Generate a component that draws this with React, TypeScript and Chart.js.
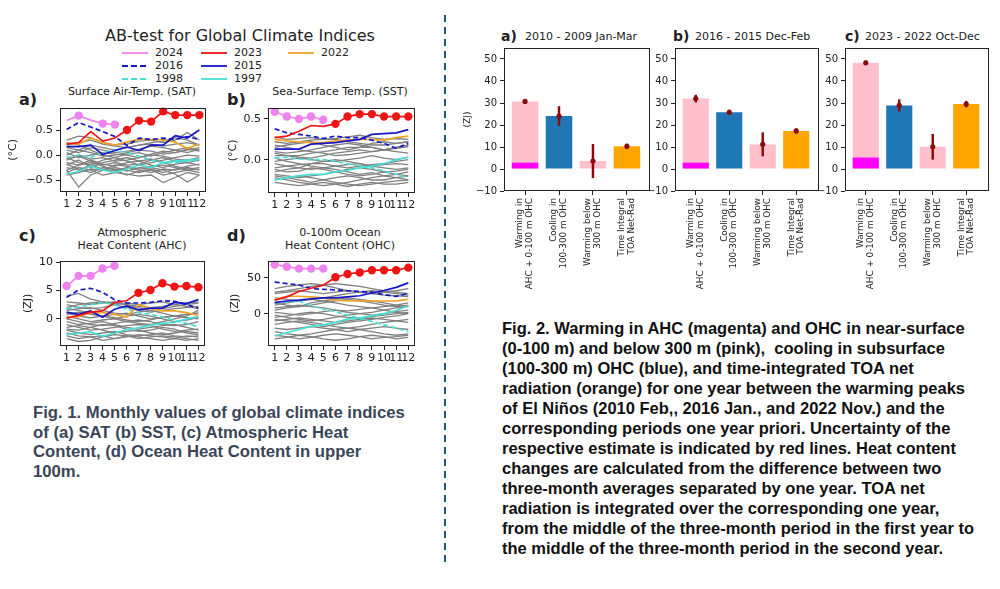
import React, { useEffect, useRef } from "react";
import { Chart, registerables } from "chart.js";
Chart.register(...registerables);

const FONT = "'DejaVu Sans', sans-serif";
const CAP_FONT = "'Liberation Sans', Arial, sans-serif";
const TXT = "#222";

// ---------------- Fig. 1 data ----------------
const MONTHS = [1, 2, 3, 4, 5, 6, 7, 8, 9, 10, 11, 12];

// (a) SAT (°C)
const SAT_2024 = [0.69, 0.79, 0.7, 0.63, 0.61];
const SAT_2024_REC = [0, 1, 0, 1, 1];
const SAT_2023 = [0.22, 0.25, 0.47, 0.28, 0.34, 0.5, 0.69, 0.67, 0.875, 0.8, 0.8, 0.8];
const SAT_2023_REC = [0, 0, 0, 0, 0, 1, 1, 1, 1, 1, 1, 1];
const SAT_2022 = [0.24, 0.22, 0.34, 0.25, 0.2, 0.26, 0.32, 0.31, 0.31, 0.26, 0.13, 0.22];
const SAT_2016 = [0.51, 0.65, 0.56, 0.47, 0.37, 0.19, 0.34, 0.31, 0.34, 0.31, 0.37, 0.31];
const SAT_2015 = [0.17, 0.17, 0.2, 0.01, 0.09, 0.16, 0.09, 0.2, 0.2, 0.39, 0.34, 0.5];
const SAT_1998 = [-0.05, 0.0, -0.05, 0.05, 0.1, 0.05, -0.02, -0.1, -0.15, -0.15, -0.12, -0.1];
const SAT_1997 = [-0.38, -0.33, -0.22, -0.3, -0.35, -0.28, -0.2, -0.25, -0.15, -0.12, -0.1, -0.08];
const SAT_OTHERS = [
  [0.3, 0.38, 0.35, 0.25, 0.2, 0.22, 0.28, 0.3, 0.25, 0.3, 0.45, 0.3],
  [0.2, 0.25, 0.3, 0.22, 0.18, 0.15, 0.2, 0.25, 0.28, 0.35, 0.3, 0.2],
  [0.1, 0.05, 0.15, 0.1, 0.05, 0.08, 0.12, 0.18, 0.15, 0.1, 0.05, 0.12],
  [0.05, -0.05, 0.0, 0.05, 0.02, 0.0, -0.05, 0.02, 0.08, 0.05, 0.1, 0.15],
  [-0.1, 0.0, -0.08, -0.05, -0.12, -0.1, -0.05, 0.0, -0.02, -0.08, -0.1, -0.05],
  [-0.15, -0.2, -0.1, -0.18, -0.22, -0.15, -0.12, -0.2, -0.25, -0.18, -0.15, -0.2],
  [-0.2, -0.1, -0.25, -0.15, -0.1, -0.05, -0.12, -0.08, -0.15, -0.22, -0.28, -0.25],
  [-0.25, -0.3, -0.2, -0.28, -0.32, -0.25, -0.3, -0.35, -0.28, -0.3, -0.25, -0.3],
  [-0.3, -0.64, -0.4, -0.3, -0.25, -0.3, -0.35, -0.3, -0.4, -0.35, -0.3, -0.35],
  [-0.35, -0.25, -0.3, -0.4, -0.35, -0.38, -0.42, -0.4, -0.55, -0.45, -0.35, -0.4],
  [-0.05, -0.15, -0.2, -0.1, -0.05, -0.12, -0.2, -0.15, -0.1, -0.05, 0.0, -0.02],
  [0.0, 0.1, 0.05, -0.02, 0.0, 0.05, 0.1, 0.08, 0.02, 0.05, 0.12, 0.08],
  [-0.4, -0.35, -0.28, -0.3, -0.2, -0.22, -0.28, -0.25, -0.3, -0.38, -0.54, -0.4],
  [0.15, 0.1, 0.2, 0.15, 0.1, 0.15, 0.2, 0.22, 0.18, 0.22, 0.25, 0.2],
  [-0.08, -0.02, -0.12, -0.2, -0.15, -0.2, -0.18, -0.1, -0.05, -0.12, -0.15, -0.1],
  [0.25, 0.2, 0.1, 0.0, -0.05, 0.02, 0.05, -0.02, 0.05, 0.1, 0.15, 0.1],
  [-0.18, -0.28, -0.35, -0.25, -0.28, -0.32, -0.25, -0.22, -0.2, -0.25, -0.3, -0.28],
  [-0.3, -0.2, -0.15, -0.22, -0.3, -0.4, -0.32, -0.28, -0.35, -0.28, -0.22, -0.18],
];

// (b) SST (°C)
const SST_2024 = [0.59, 0.53, 0.5, 0.53, 0.49];
const SST_2024_REC = [1, 1, 1, 1, 1];
const SST_2023 = [0.27, 0.29, 0.35, 0.42, 0.41, 0.44, 0.53, 0.56, 0.56, 0.53, 0.53, 0.53];
const SST_2023_REC = [0, 0, 0, 0, 0, 1, 1, 1, 1, 1, 1, 1];
const SST_2022 = [0.25, 0.23, 0.22, 0.21, 0.21, 0.23, 0.24, 0.25, 0.25, 0.24, 0.27, 0.29];
const SST_2016 = [0.38, 0.33, 0.31, 0.29, 0.26, 0.29, 0.27, 0.27, 0.24, 0.2, 0.14, 0.2];
const SST_2015 = [0.13, 0.13, 0.13, 0.19, 0.2, 0.21, 0.23, 0.25, 0.31, 0.32, 0.33, 0.37];
const SST_1998 = [0.02, 0.03, 0.01, 0.0, 0.0, -0.02, -0.05, -0.08, -0.1, -0.14, -0.18, -0.22];
const SST_1997 = [-0.25, -0.22, -0.2, -0.18, -0.18, -0.15, -0.13, -0.1, -0.08, -0.05, 0.0, 0.03];
const SST_OTHERS = [
  [0.28, 0.25, 0.26, 0.27, 0.25, 0.26, 0.28, 0.3, 0.27, 0.25, 0.26, 0.25],
  [0.22, 0.2, 0.22, 0.24, 0.25, 0.25, 0.22, 0.2, 0.18, 0.18, 0.2, 0.22],
  [0.15, 0.18, 0.2, 0.22, 0.18, 0.15, 0.12, 0.15, 0.15, 0.12, 0.14, 0.16],
  [0.1, 0.08, 0.1, 0.12, 0.15, 0.18, 0.2, 0.18, 0.15, 0.12, 0.1, 0.08],
  [0.05, 0.05, 0.03, 0.02, 0.05, 0.08, 0.1, 0.12, 0.1, 0.12, 0.15, 0.18],
  [-0.02, 0.0, 0.02, 0.0, -0.02, -0.02, 0.0, 0.02, 0.05, 0.02, 0.0, 0.03],
  [-0.05, -0.08, -0.06, -0.05, -0.05, -0.08, -0.1, -0.08, -0.06, -0.05, -0.02, 0.0],
  [-0.1, -0.08, -0.1, -0.12, -0.1, -0.08, -0.06, -0.05, -0.08, -0.1, -0.12, -0.1],
  [-0.12, -0.15, -0.14, -0.1, -0.12, -0.15, -0.18, -0.2, -0.18, -0.15, -0.14, -0.12],
  [-0.18, -0.2, -0.22, -0.2, -0.18, -0.15, -0.12, -0.1, -0.12, -0.15, -0.18, -0.2],
  [-0.2, -0.22, -0.25, -0.28, -0.25, -0.22, -0.2, -0.22, -0.25, -0.25, -0.22, -0.2],
  [-0.25, -0.22, -0.2, -0.22, -0.25, -0.28, -0.3, -0.32, -0.3, -0.28, -0.26, -0.25],
  [-0.28, -0.3, -0.32, -0.3, -0.28, -0.3, -0.33, -0.3, -0.28, -0.3, -0.3, -0.28],
  [0.02, -0.02, -0.05, -0.08, -0.1, -0.12, -0.15, -0.18, -0.16, -0.2, -0.22, -0.25],
  [0.18, 0.15, 0.12, 0.1, 0.08, 0.05, 0.06, 0.08, 0.1, 0.12, 0.15, 0.18],
  [-0.15, -0.12, -0.1, -0.05, -0.02, 0.0, -0.02, -0.05, -0.08, -0.06, -0.05, -0.06],
  [0.08, 0.05, 0.05, 0.08, 0.1, 0.12, 0.15, 0.15, 0.2, 0.22, 0.2, 0.22],
  [-0.22, -0.25, -0.28, -0.3, -0.32, -0.3, -0.28, -0.25, -0.22, -0.2, -0.18, -0.15],
];

// (c) AHC (ZJ)
const AHC_2024 = [5.8, 7.6, 7.6, 8.9, 9.4];
const AHC_2024_REC = [1, 1, 1, 1, 1];
const AHC_2023 = [0.1, 0.6, 1.2, 1.4, 2.9, 3.2, 4.6, 5.1, 6.3, 5.7, 5.8, 5.6];
const AHC_2023_REC = [0, 0, 0, 0, 0, 0, 1, 1, 1, 1, 1, 1];
const AHC_2022 = [0.3, 0.4, 1.1, 1.1, 0.8, 0.3, 2.5, 1.9, 1.4, 1.4, 1.1, 0.6];
const AHC_2016 = [3.8, 5.1, 5.4, 4.7, 3.4, 2.8, 2.8, 2.9, 3.2, 3.1, 2.5, 1.9];
const AHC_2015 = [1.2, 0.8, 1.4, 0.3, 1.7, 2.3, 1.6, 1.9, 1.9, 2.9, 2.7, 3.4];
const AHC_1998 = [1.8, 2.1, 2.5, 2.9, 2.5, 1.7, 1.1, 0.8, 0.3, -0.3, -0.8, -1.4];
const AHC_1997 = [-2.8, -2.5, -2.3, -3.1, -2.5, -1.9, -1.6, -1.1, -0.8, -0.6, 0.0, 0.4];
const AHC_OTHERS = [
  [4.0, 4.5, 3.5, 3.0, 2.8, 2.5, 2.2, 2.0, 2.2, 2.5, 2.8, 3.0],
  [2.0, 2.5, 2.8, 3.0, 2.5, 2.0, 1.5, 1.2, 1.5, 1.8, 2.0, 2.2],
  [1.5, 1.8, 2.0, 1.5, 1.0, 0.8, 1.2, 1.5, 1.0, 0.5, 0.8, 1.0],
  [1.0, 0.5, 0.2, 0.5, 0.8, 1.0, 0.5, 0.0, 0.2, 0.5, 0.2, 0.0],
  [0.5, 0.0, -0.5, -0.2, 0.0, 0.5, 0.8, 0.5, 0.0, -0.5, -0.2, 0.2],
  [0.0, -0.5, -1.0, -1.2, -0.8, -0.5, -0.2, -0.5, -1.0, -1.2, -1.0, -0.5],
  [-0.5, -1.0, -0.8, -0.5, -1.0, -1.5, -1.8, -1.5, -1.2, -1.0, -1.5, -2.0],
  [-1.0, -1.5, -2.0, -1.8, -1.5, -1.2, -1.0, -1.2, -1.8, -2.2, -2.0, -1.8],
  [-1.5, -1.2, -1.5, -2.0, -2.5, -2.2, -2.0, -2.5, -2.8, -2.5, -2.2, -2.5],
  [-2.0, -2.5, -2.8, -2.5, -2.2, -2.8, -3.0, -2.8, -2.5, -3.0, -3.2, -3.0],
  [-2.5, -3.0, -3.2, -3.0, -3.5, -3.2, -2.8, -3.0, -3.2, -3.5, -3.0, -3.2],
  [-3.0, -3.5, -3.2, -3.8, -3.5, -3.0, -3.2, -3.5, -3.8, -3.5, -3.8, -3.5],
  [2.5, 2.0, 1.8, 2.0, 2.5, 2.8, 2.5, 2.8, 3.0, 2.5, 2.2, 1.8],
  [0.8, 1.2, 0.8, 0.5, 0.2, -0.2, -0.5, -0.2, 0.3, 0.5, 0.8, 1.0],
  [-1.8, -2.0, -1.5, -1.0, -1.2, -1.8, -2.2, -2.0, -1.5, -1.8, -2.5, -2.8],
  [1.8, 1.5, 1.0, 0.5, 0.0, -0.5, -0.8, -1.0, -0.5, 0.0, 0.5, 1.5],
  [-3.5, -4.0, -3.8, -3.2, -2.8, -3.0, -3.5, -3.2, -3.0, -3.2, -3.5, -3.8],
  [3.0, 2.8, 2.5, 2.8, 3.0, 2.5, 2.0, 1.5, 1.8, 2.2, 2.5, 2.8],
];

// (d) 0-100m OHC (ZJ)
const OHC_2024 = [68.6, 65.5, 62.8, 62.8, 62.8];
const OHC_2024_REC = [1, 1, 1, 1, 1];
const OHC_2023 = [19, 23.5, 31, 35.4, 39.8, 50.9, 55.3, 57.5, 60.6, 60.6, 60.6, 64.2];
const OHC_2023_REC = [0, 0, 0, 0, 0, 1, 1, 1, 1, 1, 1, 1];
const OHC_2022 = [19, 24.3, 24.3, 23.5, 22, 19, 17.7, 17.7, 17.7, 17.7, 17.7, 20];
const OHC_2016 = [44, 42, 40, 35, 34, 33, 32, 31, 30, 26.5, 24, 28.7];
const OHC_2015 = [15.5, 17.7, 19, 20.8, 22, 22, 23.5, 25, 28.8, 32.3, 36.7, 43];
const OHC_1998 = [15.5, 16.4, 17.7, 11, 6.6, 3, -2, -6.6, -11, -15.5, -20, -25];
const OHC_1997 = [-31, -26.5, -22, -17.7, -15.5, -12, -7.5, -5.8, -3, 0, 4.4, 11];
const OHC_OTHERS = [
  [28, 30, 32, 30, 28, 30, 32, 30, 28, 26, 25, 24],
  [35, 38, 40, 42, 40, 36, 32, 30, 28, 30, 32, 35],
  [22, 20, 18, 20, 22, 25, 28, 30, 32, 30, 28, 26],
  [15, 12, 10, 12, 15, 18, 20, 18, 15, 12, 10, 12],
  [8, 10, 12, 10, 8, 5, 4, 6, 8, 10, 12, 15],
  [2, 0, -2, 0, 3, 5, 2, 0, -2, 0, 3, 5],
  [-5, -3, 0, 2, 0, -3, -5, -6, -4, -2, 0, 2],
  [-10, -8, -6, -8, -10, -12, -10, -8, -6, -8, -10, -12],
  [-15, -12, -10, -12, -15, -18, -20, -18, -15, -12, -10, -8],
  [-20, -22, -20, -18, -20, -22, -25, -22, -20, -18, -20, -22],
  [-25, -28, -30, -28, -25, -22, -20, -22, -25, -28, -30, -28],
  [-30, -32, -35, -33, -30, -28, -30, -32, -35, -33, -32, -30],
  [-35, -33, -30, -32, -35, -37, -35, -32, -30, -32, -35, -33],
  [5, 8, 10, 15, 18, 20, 22, 20, 18, 15, 12, 10],
  [-2, -5, -8, -10, -8, -5, -2, 0, 2, 5, 8, 10],
  [30, 32, 35, 38, 40, 42, 40, 38, 35, 32, 30, 28],
  [-8, -10, -12, -15, -18, -15, -12, -10, -8, -5, -3, 0],
  [12, 15, 18, 20, 18, 15, 12, 10, 8, 5, 2, 0],
];

// ---------------- Fig. 2 data ----------------
const BAR_LABELS = [
  ["Warming in", "AHC + 0-100 m OHC"],
  ["Cooling in", "100-300 m OHC"],
  ["Warming below", "300 m OHC"],
  ["Time Integral", "TOA Net-Rad"],
];
const BAR_A_VALUES = [30.7, 24.1, 3.6, 10.3];
const BAR_A_ERR = [0.4, 4.3, 7.6, 1.1];
const BAR_A_AHC = 2.9;
const BAR_B_VALUES = [32.0, 25.8, 11.2, 17.3];
const BAR_B_ERR = [1.6, 1.0, 5.3, 1.0];
const BAR_B_AHC = 2.9;
const BAR_C_VALUES = [48.3, 28.9, 10.1, 29.5];
const BAR_C_ERR = [0.9, 2.6, 5.7, 1.3];
const BAR_C_AHC = 5.2;

// ---------------- styles ----------------
const COL = {
  y2024: "#ee82ee",
  y2023: "#f01414",
  y2022: "#efa224",
  y2016: "#1616c8",
  y2015: "#1616c8",
  y1998: "#45dfd6",
  y1997: "#45dfd6",
  gray: "#808080",
};
const BAR_COLORS = ["#ffc0cb", "#1f77b4", "#ffc0cb", "#ffa500"];
const MAGENTA = "#ff00ff";
const ERR_COLOR = "#8b0a0a";

const minus = (s: string) => s.replace("-", "\u2212");

const framePlugin = {
  id: "frame",
  afterDraw(chart: any) {
    const { ctx, chartArea } = chart;
    const l = Math.round(chartArea.left) + 0.5;
    const t = Math.round(chartArea.top) + 0.5;
    const r = Math.round(chartArea.right) - 0.5;
    const b = Math.round(chartArea.bottom) - 0.5;
    ctx.save();
    ctx.strokeStyle = "#222";
    ctx.lineWidth = 1;
    ctx.strokeRect(l, t, r - l, b - t);
    ctx.restore();
  },
};

type Geo = { left: number; top: number; width: number; height: number; x0: number; y0: number; x1: number; y1: number };

function ChartCanvas({ geo, build }: { geo: Geo; build: (g: Geo) => any }) {
  const ref = useRef<HTMLCanvasElement>(null);
  useEffect(() => {
    const chart = new Chart(ref.current as HTMLCanvasElement, build(geo));
    return () => chart.destroy();
  }, []);
  return (
    <canvas
      ref={ref}
      width={geo.width}
      height={geo.height}
      style={{ position: "absolute", left: geo.left, top: geo.top, width: geo.width, height: geo.height }}
    />
  );
}

function baseOptions(g: Geo) {
  return {
    responsive: false,
    animation: false,
    devicePixelRatio: 1,
    events: [],
    layout: { padding: { left: 0, top: g.y0 - g.top, right: g.left + g.width - g.x1, bottom: 0 } },
    plugins: { legend: { display: false }, tooltip: { enabled: false }, title: { display: false } },
  };
}

const pts = (vals: number[]) => vals.map((v, i) => ({ x: MONTHS[i], y: v }));

type LinePanel = {
  v2024: number[]; r2024: number[]; v2023: number[]; r2023: number[];
  v2022: number[]; v2016: number[]; v2015: number[]; v1998: number[]; v1997: number[];
  others: number[][];
  yMin: number; yMax: number; yStep: number; digits: number; ylabel: string; ylabelX: number;
};

function lineBuilder(p: LinePanel) {
  return (g: Geo) => {
    const ds: any[] = [];
    p.others.forEach((o) =>
      ds.push({ data: pts(o), borderColor: COL.gray, borderWidth: 1.3, pointRadius: 0, order: 20 })
    );
    const add = (vals: number[], color: string, order: number, dash: number[] = [], rec?: number[]) =>
      ds.push({
        data: pts(vals),
        borderColor: color,
        backgroundColor: color,
        borderWidth: 1.7,
        borderDash: dash,
        pointRadius: (c: any) => (rec && rec[c.dataIndex] ? 4.2 : 0),
        pointBorderWidth: 0,
        pointBackgroundColor: color,
        order,
      });
    add(p.v1997, COL.y1997, 9);
    add(p.v1998, COL.y1998, 8, [5, 3]);
    add(p.v2022, COL.y2022, 7);
    add(p.v2015, COL.y2015, 6);
    add(p.v2016, COL.y2016, 5, [5, 3]);
    add(p.v2023, COL.y2023, 2, [], p.r2023);
    add(p.v2024, COL.y2024, 1, [], p.r2024);
    const tickFont = { family: FONT, size: 11 };
    return {
      type: "line",
      data: { datasets: ds },
      plugins: [framePlugin],
      options: {
        ...baseOptions(g),
        elements: { line: { tension: 0 } },
        scales: {
          x: {
            type: "linear",
            min: 0.45,
            max: 12.55,
            offset: false,
            afterFit: (s: any) => { s.height = g.top + g.height - g.y1; },
            border: { display: false },
            grid: { drawOnChartArea: false, drawTicks: true, tickLength: 4, color: "#222", offset: false },
            ticks: { stepSize: 1, includeBounds: false, autoSkip: false, maxRotation: 0, minRotation: 0, font: tickFont, color: TXT, padding: 2, callback: (v: any) => String(v) },
          },
          y: {
            type: "linear",
            min: p.yMin,
            max: p.yMax,
            afterFit: (s: any) => { s.width = g.x0 - g.left; },
            border: { display: false },
            grid: { drawOnChartArea: false, drawTicks: true, tickLength: 4, color: "#222" },
            ticks: { stepSize: p.yStep, includeBounds: false, font: tickFont, color: TXT, padding: 3, callback: (v: any) => minus(Number(v).toFixed(p.digits)) },
            title: { display: true, text: p.ylabel, font: { family: FONT, size: 11 }, color: TXT, padding: { top: p.ylabelX - g.left - 6.6, bottom: 0 } },
          },
        },
      },
    };
  };
}

function barBuilder(values: number[], errs: number[], ahc: number, ylabel: string | null, ylabelX: number) {
  return (g: Geo) => {
    const ds: any[] = [
      { type: "bar", data: values.map((v, i) => ({ x: i, y: v })), backgroundColor: BAR_COLORS, grouped: false, categoryPercentage: 0.78, barPercentage: 1, order: 3 },
      { type: "bar", data: [{ x: 0, y: ahc }], backgroundColor: MAGENTA, grouped: false, categoryPercentage: 0.78, barPercentage: 1, order: 2 },
      { type: "bar", data: values.map((v, i) => ({ x: i, y: [v - errs[i], v + errs[i]] })), backgroundColor: ERR_COLOR, grouped: false, barThickness: 1.8, order: 1 },
      { type: "line", data: values.map((v, i) => ({ x: i, y: v })), showLine: false, pointRadius: 2.6, pointBorderWidth: 0, pointBackgroundColor: ERR_COLOR, order: 0 },
    ];
    return {
      type: "bar",
      data: { datasets: ds },
      plugins: [framePlugin],
      options: {
        ...baseOptions(g),
        scales: {
          x: {
            type: "linear",
            min: -0.62,
            max: 3.68,
            offset: false,
            afterFit: (s: any) => { s.height = g.top + g.height - g.y1; },
            border: { display: false },
            grid: { drawOnChartArea: false, drawTicks: true, tickLength: 4, color: "#222", offset: false },
            ticks: {
              stepSize: 1, includeBounds: false, autoSkip: false, minRotation: 90, maxRotation: 90,
              font: { family: FONT, size: 8.8, lineHeight: 1.12 }, color: TXT, padding: 3, labelOffset: -5,
              callback: (v: any) => BAR_LABELS[Number(v)] ?? "",
            },
          },
          y: {
            type: "linear",
            min: -10,
            max: 55,
            afterFit: (s: any) => { s.width = g.x0 - g.left; },
            border: { display: false },
            grid: { drawOnChartArea: false, drawTicks: true, tickLength: 4, color: "#222" },
            ticks: { stepSize: 10, includeBounds: false, font: { family: FONT, size: 10 }, color: TXT, padding: 3, callback: (v: any) => minus(String(v)) },
            title: ylabel
              ? { display: true, text: ylabel, font: { family: FONT, size: 9 }, color: TXT, padding: { top: ylabelX - g.left - 5.4, bottom: 0 } }
              : { display: false },
          },
        },
      },
    };
  };
}

const PANEL_A: LinePanel = { v2024: SAT_2024, r2024: SAT_2024_REC, v2023: SAT_2023, r2023: SAT_2023_REC, v2022: SAT_2022, v2016: SAT_2016, v2015: SAT_2015, v1998: SAT_1998, v1997: SAT_1997, others: SAT_OTHERS, yMin: -0.74, yMax: 0.95, yStep: 0.5, digits: 1, ylabel: "(°C)", ylabelX: 13 };
const PANEL_B: LinePanel = { v2024: SST_2024, r2024: SST_2024_REC, v2023: SST_2023, r2023: SST_2023_REC, v2022: SST_2022, v2016: SST_2016, v2015: SST_2015, v1998: SST_1998, v1997: SST_1997, others: SST_OTHERS, yMin: -0.41, yMax: 0.64, yStep: 0.5, digits: 1, ylabel: "(°C)", ylabelX: 233 };
const PANEL_C: LinePanel = { v2024: AHC_2024, r2024: AHC_2024_REC, v2023: AHC_2023, r2023: AHC_2023_REC, v2022: AHC_2022, v2016: AHC_2016, v2015: AHC_2015, v1998: AHC_1998, v1997: AHC_1997, others: AHC_OTHERS, yMin: -4.8, yMax: 10.3, yStep: 5, digits: 0, ylabel: "(ZJ)", ylabelX: 28 };
const PANEL_D: LinePanel = { v2024: OHC_2024, r2024: OHC_2024_REC, v2023: OHC_2023, r2023: OHC_2023_REC, v2022: OHC_2022, v2016: OHC_2016, v2015: OHC_2015, v1998: OHC_1998, v1997: OHC_1997, others: OHC_OTHERS, yMin: -45, yMax: 74, yStep: 50, digits: 0, ylabel: "(ZJ)", ylabelX: 235 };

function T({ x, y, size, bold, center, children, family = FONT, color = TXT }: any) {
  return (
    <div
      style={{
        position: "absolute", left: x, top: y - size * 0.6, fontSize: size, lineHeight: `${size * 1.2}px`,
        fontFamily: family, fontWeight: bold ? "bold" : "normal", color, whiteSpace: "nowrap",
        transform: center ? "translateX(-50%)" : undefined,
      }}
    >
      {children}
    </div>
  );
}

const LEGEND = [
  { label: "2024", color: COL.y2024, dash: "" },
  { label: "2016", color: COL.y2016, dash: "6 3" },
  { label: "1998", color: COL.y1998, dash: "6 3" },
  { label: "2023", color: COL.y2023, dash: "" },
  { label: "2015", color: COL.y2015, dash: "" },
  { label: "1997", color: COL.y1997, dash: "" },
  { label: "2022", color: COL.y2022, dash: "" },
];

function Legend() {
  const colX = [122, 201, 288];
  const rowY = [53, 66, 79];
  return (
    <>
      <svg style={{ position: "absolute", left: 0, top: 0 }} width={440} height={100}>
        {LEGEND.map((it, i) => {
          const cx = colX[Math.floor(i / 3)];
          const cy = rowY[i % 3];
          return <line key={i} x1={cx} x2={cx + 26} y1={cy} y2={cy} stroke={it.color} strokeWidth={1.8} strokeDasharray={it.dash || undefined} />;
        })}
      </svg>
      {LEGEND.map((it, i) => (
        <T key={i} x={colX[Math.floor(i / 3)] + 33} y={rowY[i % 3]} size={11}>{it.label}</T>
      ))}
    </>
  );
}

export default function App() {
  return (
    <div style={{ position: "absolute", left: 0, top: 0, width: 1000, height: 589, background: "#fff", overflow: "hidden" }}>
      {/* Fig. 1 */}
      <T x={240} y={36} size={16} center>AB-test for Global Climate Indices</T>
      <Legend />
      <T x={19} y={100} size={16} bold>a)</T>
      <T x={132} y={92} size={11} center>Surface Air-Temp. (SAT)</T>
      <T x={227} y={100} size={16} bold>b)</T>
      <T x={340} y={92} size={11} center>Sea-Surface Temp. (SST)</T>
      <T x={19} y={236} size={16} bold>c)</T>
      <T x={132} y={233} size={11} center>Atmospheric</T>
      <T x={132} y={245.5} size={11} center>Heat Content (AHC)</T>
      <T x={227} y={236} size={16} bold>d)</T>
      <T x={340} y={233} size={11} center>0-100m Ocean</T>
      <T x={340} y={245.5} size={11} center>Heat Content (OHC)</T>

      <ChartCanvas geo={{ left: 0, top: 98, width: 214, height: 122, x0: 60, y0: 103, x1: 206, y1: 192 }} build={lineBuilder(PANEL_A)} />
      <ChartCanvas geo={{ left: 220, top: 98, width: 200, height: 122, x0: 268, y0: 103, x1: 415, y1: 193 }} build={lineBuilder(PANEL_B)} />
      <ChartCanvas geo={{ left: 0, top: 251, width: 214, height: 122, x0: 60, y0: 256, x1: 205, y1: 346 }} build={lineBuilder(PANEL_C)} />
      <ChartCanvas geo={{ left: 220, top: 251, width: 200, height: 122, x0: 268, y0: 256, x1: 415, y1: 346 }} build={lineBuilder(PANEL_D)} />

      <div style={{ position: "absolute", left: 33, top: 403, width: 410, fontFamily: CAP_FONT, fontWeight: "bold", fontSize: 16.7, lineHeight: "19.5px", color: "#3a4658", whiteSpace: "nowrap" }}>
        Fig. 1. Monthly values of global climate indices<br />
        of (a) SAT (b) SST, (c) Atmospheric Heat<br />
        Content, (d) Ocean Heat Content in upper<br />
        100m.
      </div>

      {/* separator */}
      <svg style={{ position: "absolute", left: 440, top: 0 }} width={10} height={589}>
        <line x1={5} x2={5} y1={15} y2={566} stroke="#235a78" strokeWidth={2} strokeDasharray="7 5" />
      </svg>

      {/* Fig. 2 */}
      <T x={501} y={36} size={14} bold>a)</T>
      <T x={525} y={37} size={11}>2010 - 2009 Jan-Mar</T>
      <T x={673} y={36} size={14} bold>b)</T>
      <T x={695} y={37} size={11}>2016 - 2015 Dec-Feb</T>
      <T x={845} y={36} size={14} bold>c)</T>
      <T x={865} y={37} size={11}>2023 - 2022 Oct-Dec</T>

      <ChartCanvas geo={{ left: 455, top: 20, width: 200, height: 290, x0: 504, y0: 48, x1: 650, y1: 191 }} build={barBuilder(BAR_A_VALUES, BAR_A_ERR, BAR_A_AHC, "(ZJ)", 468)} />
      <ChartCanvas geo={{ left: 640, top: 20, width: 185, height: 290, x0: 675, y0: 48, x1: 819, y1: 191 }} build={barBuilder(BAR_B_VALUES, BAR_B_ERR, BAR_B_AHC, null, 0)} />
      <ChartCanvas geo={{ left: 810, top: 20, width: 185, height: 290, x0: 845, y0: 48, x1: 989, y1: 191 }} build={barBuilder(BAR_C_VALUES, BAR_C_ERR, BAR_C_AHC, null, 0)} />

      <div style={{ position: "absolute", left: 502, top: 318, width: 500, fontFamily: CAP_FONT, fontWeight: "bold", fontSize: 16.5, lineHeight: "20px", color: "#111", whiteSpace: "nowrap" }}>
        Fig. 2. Warming in AHC (magenta) and OHC in near-surface<br />
        (0-100 m) and below 300 m (pink),&nbsp; cooling in subsurface<br />
        (100-300 m) OHC (blue), and time-integrated TOA net<br />
        radiation (orange) for one year between the warming peaks<br />
        of El Niños (2010 Feb,, 2016 Jan., and 2022 Nov.) and the<br />
        corresponding periods one year priori. Uncertainty of the<br />
        respective estimate is indicated by red lines. Heat content<br />
        changes are calculated from the difference between two<br />
        three-month averages separated by one year. TOA net<br />
        radiation is integrated over the corresponding one year,<br />
        from the middle of the three-month period in the first year to<br />
        the middle of the three-month period in the second year.
      </div>
    </div>
  );
}
